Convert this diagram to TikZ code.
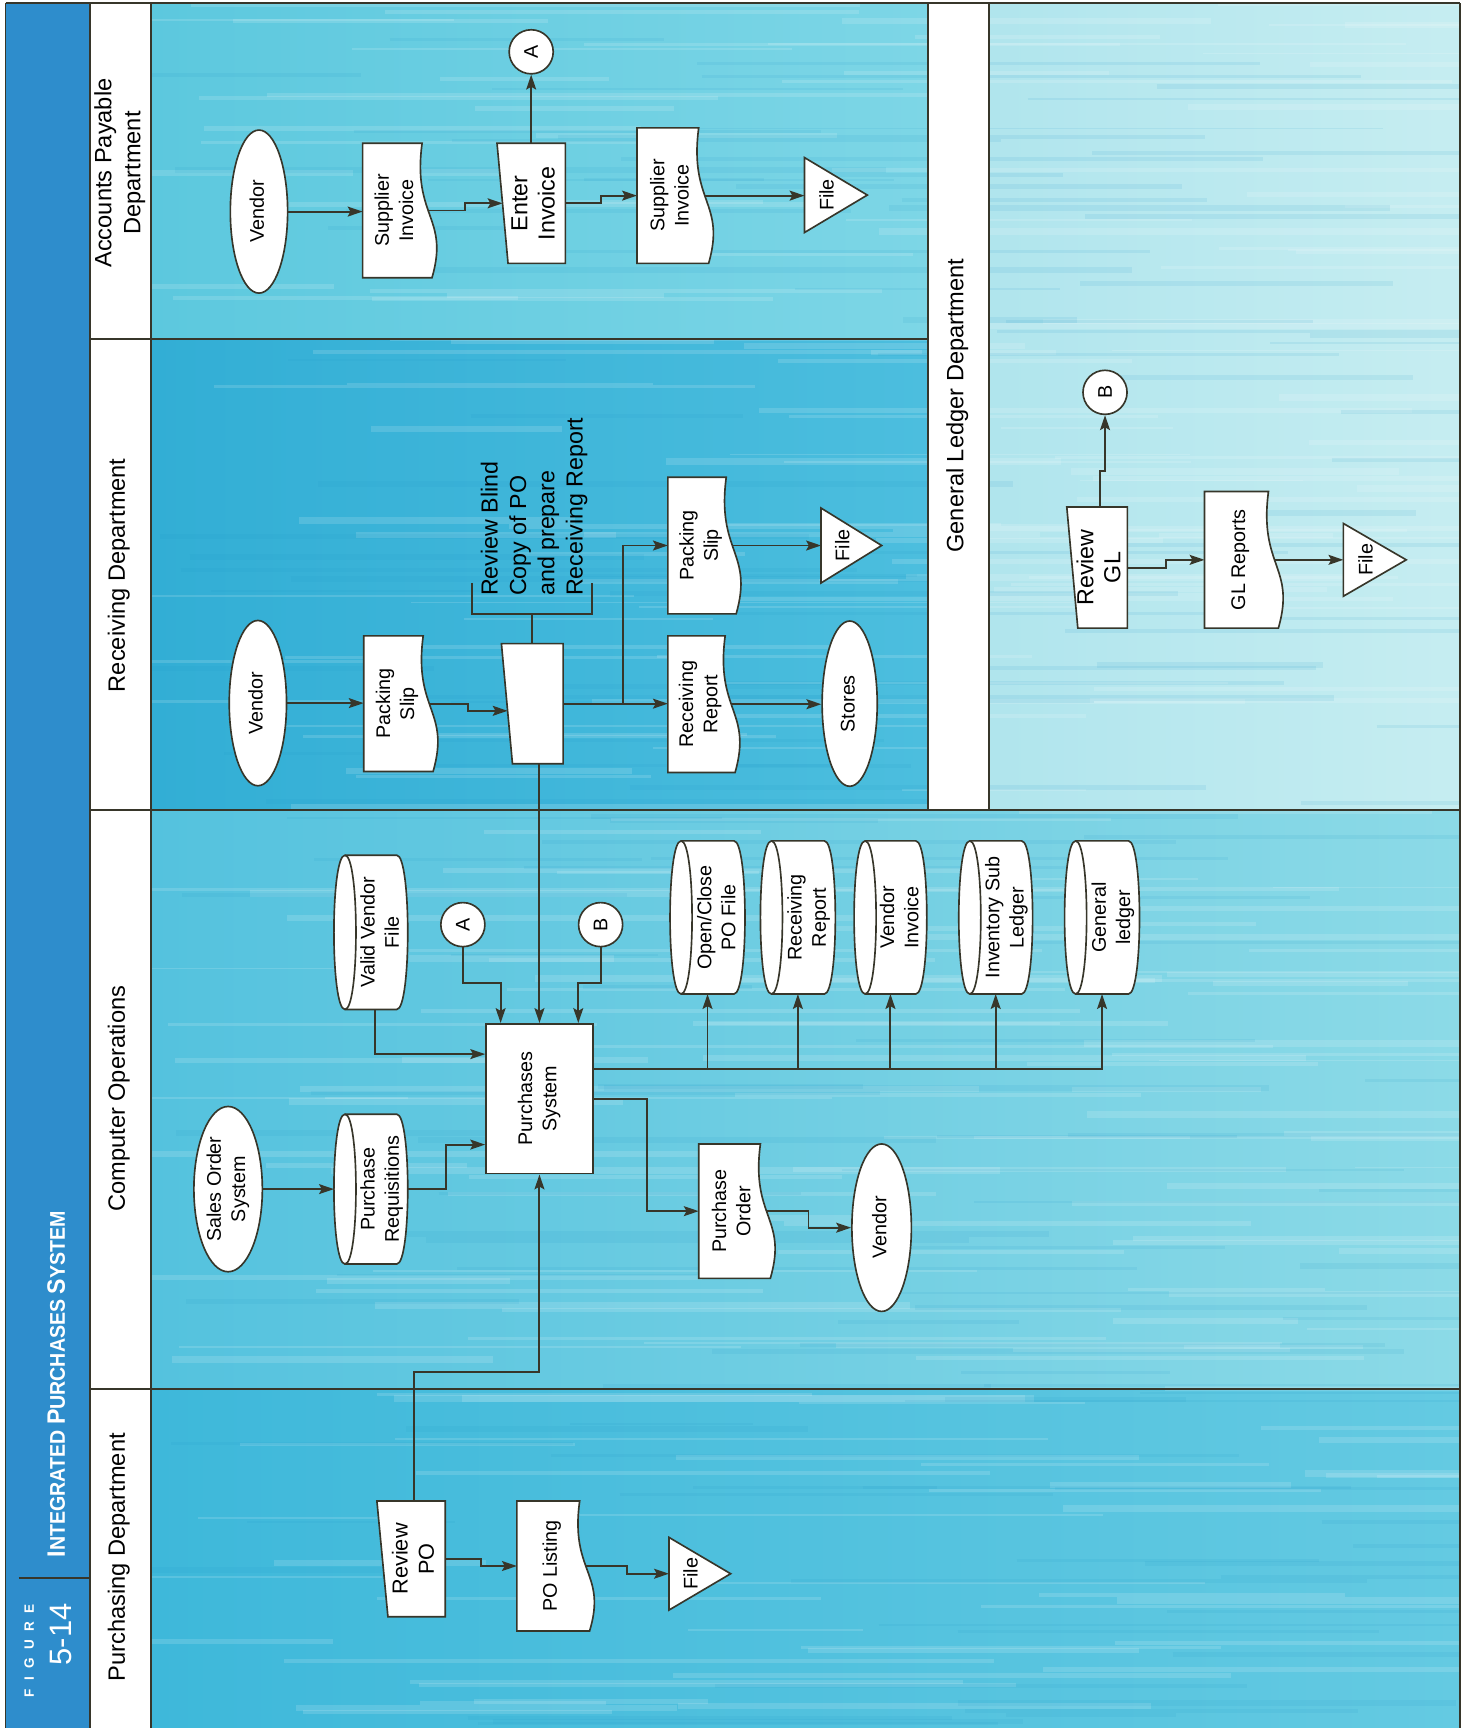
\documentclass[tikz,border=0pt]{standalone}
\usepackage{fontspec}
\setmainfont{Liberation Sans}
\usetikzlibrary{arrows.meta,calc,shapes.geometric}
\pgfdeclarelayer{lanes}
\pgfdeclarelayer{conn}
\pgfsetlayers{lanes,conn,main}
\definecolor{ink}{RGB}{55,54,42}
\definecolor{band}{RGB}{46,141,204}
\definecolor{apL}{RGB}{92,200,222}
\definecolor{apR}{RGB}{125,214,230}
\definecolor{rcL}{RGB}{50,174,213}
\definecolor{rcR}{RGB}{76,190,222}
\definecolor{glL}{RGB}{176,229,237}
\definecolor{glR}{RGB}{198,237,241}
\definecolor{coL}{RGB}{84,194,222}
\definecolor{coR}{RGB}{140,218,231}
\definecolor{puL}{RGB}{62,184,218}
\definecolor{puR}{RGB}{100,202,226}
\definecolor{streakD}{RGB}{30,150,200}
\newcommand\NF{\fontsize{10.2}{12.5}\selectfont}
\newcommand\NFL{\fontsize{12}{14}\selectfont}
\newcommand\NFM{\fontsize{11.2}{13.5}\selectfont}
\newcommand\rtx[1]{\rotatebox{90}{\begin{tabular}{@{}c@{}}#1\end{tabular}}}
\tikzset{
  shp/.style={draw=ink, line width=0.85pt, fill=white},
  box/.style={inner sep=0pt, outer sep=0pt, draw=none, fill=none, rectangle},
  ntxt/.style={inner sep=0pt, text=black},
  term/.style={shp, ellipse, inner sep=0pt, font=\NF},
  conn/.style={draw=ink, line width=1pt, -{Stealth[length=0.27cm, width=0.18cm, inset=0.05cm]}},
  wire/.style={draw=ink, line width=1pt},
  rule/.style={draw=ink, line width=1pt},
  hdr/.style={inner sep=0pt, font=\fontsize{12.2}{15}\selectfont},
}
% document: name x0 y0 x1 y1 text
\newcommand\DocN[7][\NF]{%
  \draw[shp] (#3,#4) -- ({#5-13},#4) .. controls ({#5-22},{#4+0.55*(#6-#4)}) and ({#5+12},{#4+0.55*(#6-#4)}) .. ({#5-4},#6) -- (#3,#6) -- cycle;
  \pgfmathsetmacro\shpW{(#5-8-#3)*0.02}\pgfmathsetmacro\shpH{(#6-#4)*0.02}%
  \node[box, minimum width=\shpW cm, minimum height=\shpH cm] (#2) at ({(#3+#5-8)/2},{(#4+#6)/2}) {};
  \node[ntxt, font=#1] (#2-t) at ({(#3+#5)/2-3},{(#4+#6)/2}) {\rtx{#7}};
}
% manual input
\newcommand\ManN[7][\NF]{%
  \draw[shp] (#3,#4) -- (#5,#4) -- (#5,#6) -- ({#3+10},#6) -- cycle;
  \pgfmathsetmacro\shpW{(#5-#3-5)*0.02}\pgfmathsetmacro\shpH{(#6-#4)*0.02}%
  \node[box, minimum width=\shpW cm, minimum height=\shpH cm] (#2) at ({(#3+5+#5)/2},{(#4+#6)/2}) {};
  \node[ntxt, font=#1] (#2-t) at ({(#3+#5)/2+4},{(#4+#6)/2}) {\rtx{#7}};
}
% disk storage (cylinder lying, end on the left)
\newcommand\CylN[7][\NF]{%
  \draw[shp] ({#3+10},#4) -- ({#5-10},#4) .. controls ({#5+3.33},#4) and ({#5+3.33},#6) .. ({#5-10},#6) -- ({#3+10},#6) .. controls ({#3-3.33},#6) and ({#3-3.33},#4) .. ({#3+10},#4) -- cycle;
  \draw[shp, fill=none] ({#3+10},#4) .. controls ({#3+23.33},#4) and ({#3+23.33},#6) .. ({#3+10},#6);
  \pgfmathsetmacro\shpW{(#5-#3)*0.02}\pgfmathsetmacro\shpH{(#6-#4)*0.02}%
  \node[box, minimum width=\shpW cm, minimum height=\shpH cm] (#2) at ({(#3+#5)/2},{(#4+#6)/2}) {};
  \node[ntxt, font=#1] (#2-t) at ({(#3+#5)/2+10},{(#4+#6)/2}) {\rtx{#7}};
}
% file (triangle pointing right)
\newcommand\FileN[5]{%
  \draw[shp] (#2,#3) -- (#4,{(#3+#5)/2}) -- (#2,#5) -- cycle;
  \pgfmathsetmacro\shpW{(#4-#2)*0.02}\pgfmathsetmacro\shpH{(#5-#3)*0.02}%
  \node[box, minimum width=\shpW cm, minimum height=\shpH cm] (#1) at ({(#2+#4)/2},{(#3+#5)/2}) {};
  \node[ntxt, font=\NF] (#1-t) at ({#2+(#4-#2)/3+1},{(#3+#5)/2}) {\rotatebox{90}{File}};
}
\begin{document}
\begin{tikzpicture}[x=0.02cm,y=-0.02cm]
\useasboundingbox (0,0) rectangle (1337,1568);
\begin{pgfonlayer}{lanes}
\fill[white] (0,0) rectangle (1337,1568);
\fill[band] (5,3) rectangle (82,1568);
\fill[white] (82,3) rectangle (137,1568);
\fill[white] (842,3) rectangle (897,735);
\shade[left color=apL,right color=apR] (137,3) rectangle (842,308);
\shade[left color=rcL,right color=rcR] (137,308) rectangle (842,735);
\shade[left color=glL,right color=glR] (897,3) rectangle (1325,735);
\shade[left color=coL,right color=coR] (137,735) rectangle (1325,1260);
\shade[left color=puL,right color=puR] (137,1260) rectangle (1325,1568);
% horizontal streak texture of the printed background
\begin{scope}
\clip (137,3) rectangle (842,1568) (897,3) rectangle (1325,1568) (842,735) rectangle (897,1568);
\pgfmathsetseed{11}
\foreach \i in {1,...,240}{
  \pgfmathsetmacro\yy{3+1565*rnd}
  \pgfmathsetmacro\xa{100+1150*rnd}
  \pgfmathsetmacro\ln{150+500*rnd}
  \pgfmathsetmacro\th{(1.5+5*rnd)*0.569}
  \draw[white, opacity=0.14, line width=\th pt] (\xa,\yy) -- ++(\ln,0);
}
\foreach \i in {1,...,140}{
  \pgfmathsetmacro\yy{3+1565*rnd}
  \pgfmathsetmacro\xa{100+1150*rnd}
  \pgfmathsetmacro\ln{150+500*rnd}
  \pgfmathsetmacro\th{(1.5+4*rnd)*0.569}
  \draw[streakD, opacity=0.10, line width=\th pt] (\xa,\yy) -- ++(\ln,0);
}
\end{scope}
\draw[rule] (5,3) -- (1325,3);
\draw[rule] (5,3) -- (5,1568);
\draw[rule] (82,3) -- (82,1568);
\draw[rule] (137,3) -- (137,1568);
\draw[rule] (82,308) -- (842,308);
\draw[rule] (82,735) -- (1325,735);
\draw[rule] (82,1260) -- (1325,1260);
\draw[rule] (842,3) -- (842,735);
\draw[rule] (897,3) -- (897,735);
\draw[rule] (1325,3) -- (1325,1568);
\draw[ink, line width=1.3pt] (17,1432) -- (82,1432);
\end{pgfonlayer}

% band texts
\node[inner sep=0pt, text=white] (title) at (51,1256) {\rotatebox{90}{\scalebox{0.92}[1]{\bfseries\fontsize{13}{13}\selectfont I\fontsize{11}{11}\selectfont NTEGRATED \fontsize{13}{13}\selectfont P\fontsize{11}{11}\selectfont URCHASES \fontsize{13}{13}\selectfont S\fontsize{11}{11}\selectfont YSTEM}}};
\node[inner sep=0pt, text=white] (figword) at (26.5,1498) {\rotatebox{90}{\bfseries\fontsize{7}{7}\selectfont F\hspace{4.4pt}I\hspace{4.4pt}G\hspace{4.4pt}U\hspace{4.4pt}R\hspace{4.4pt}E}};
\node[inner sep=0pt, text=white] (fignum) at (55,1483) {\rotatebox{90}{\fontsize{16}{16}\selectfont 5-14}};

% lane headers
\node[hdr] (hAP) at (109,157) {\rtx{Accounts Payable\\Department}};
\node[hdr] (hRC) at (108,522) {\rtx{Receiving Department}};
\node[hdr] (hCO) at (108,997) {\rtx{Computer Operations}};
\node[hdr] (hPU) at (108,1413) {\rtx{Purchasing Department}};
\node[hdr] (hGL) at (869,368) {\rtx{General Ledger Department}};

% ---- Accounts Payable
\node[term, minimum width=1.04cm, minimum height=2.96cm] (apV) at (235,192) {\rtx{Vendor}};
\DocN{apSI}{329}{130}{396}{252}{Supplier\\Invoice}
\ManN[\NFL]{apEI}{451}{130}{513}{239}{Enter\\Invoice}
\node[shp, circle, minimum size=0.8cm, inner sep=0pt, font=\NF] (apA) at (482,47) {\rotatebox{90}{A}};
\DocN{apSI2}{578}{116}{647}{239}{Supplier\\Invoice}
\FileN{apF}{730}{143}{787}{211}

% ---- Receiving
\node[term, minimum width=1.04cm, minimum height=3cm] (rV) at (234,638) {\rtx{Vendor}};
\DocN{rPS}{330}{577}{397}{700}{Packing\\Slip}
\ManN{rBox}{455}{584}{511}{693}{}
\node[inner sep=0pt, anchor=south, font=\fontsize{12}{14.6}\selectfont] (rNote) at (485,541) {\rotatebox{90}{\begin{tabular}{@{}l@{}}Review Blind\\Copy of PO\\and prepare\\Receiving Report\end{tabular}}};
\DocN{rRR}{606}{577}{671}{701}{Receiving\\Report}
\DocN{rPS2}{606}{433}{672}{557}{Packing\\Slip}
\node[term, minimum width=1cm, minimum height=3cm] (rSt) at (771,638.5) {\rtx{Stores}};
\FileN{rF}{745}{461}{800}{529}

% ---- Computer Operations
\node[term, minimum width=1.1cm, minimum height=3cm] (so) at (207,1079) {\rtx{Sales Order\\System}};
\CylN{pReq}{303}{1011}{370}{1147}{Purchase\\Requisitions}
\CylN{VVF}{303}{776}{370}{916}{Valid Vendor\\File}
\node[shp, circle, minimum size=0.8cm, inner sep=0pt, font=\NF] (A2) at (420,839) {\rotatebox{90}{A}};
\node[shp, circle, minimum size=0.8cm, inner sep=0pt, font=\NF] (B2) at (545,839) {\rotatebox{90}{B}};
\node[shp, rectangle, minimum width=1.94cm, minimum height=2.72cm, inner sep=0pt, font=\NF] (PS) at (489.5,997) {\rtx{Purchases\\System}};
\CylN{OPF}{608}{763}{676}{902}{Open/Close\\PO File}
\CylN{RRc}{690}{763}{758}{902}{Receiving\\Report}
\CylN{VI}{775}{763}{841}{902}{Vendor\\Invoice}
\CylN{ISL}{870}{763}{937}{902}{Inventory Sub\\Ledger}
\CylN{GLd}{966}{763}{1034}{902}{General\\ledger}
\DocN{PO}{634}{1038}{703}{1160}{Purchase\\Order}
\node[term, minimum width=1.08cm, minimum height=3.04cm] (coV) at (800,1114) {\rtx{Vendor}};

% ---- Purchasing
\ManN[\NFM]{RPO}{342}{1362}{404}{1467}{Review\\PO}
\DocN{PLi}{469}{1362}{539}{1480}{PO Listing}
\FileN{PF}{607}{1395}{663}{1461}

% ---- General Ledger
\node[shp, circle, minimum size=0.8cm, inner sep=0pt, font=\NF] (Bg) at (1002.7,356) {\rotatebox{90}{B}};
\ManN[\NFL]{RGL}{968}{460}{1023}{570}{Review\\GL}
\DocN{GLR}{1093}{446}{1164}{570}{GL Reports}
\FileN{GF}{1219}{475}{1276}{541}

% ---- connectors
\begin{pgfonlayer}{conn}
\draw[conn] (apV.east) -- (apV.east -| apSI.west);
\draw[conn] (apSI.east) -| ($(apSI.east)!.5!(apEI.west)$) |- (apEI.west);
\draw[conn] (apEI.east) -| ($(apEI.east)!.5!(apSI2.west)$) |- (apSI2.west);
\draw[conn] (apA.south |- apEI.north) -- (apA.south);
\draw[conn] (apSI2.east) -- (apSI2.east -| apF.west);

\draw[conn] (rV.east) -- (rV.east -| rPS.west);
\draw[conn] (rPS.east) -| ($(rPS.east)!.5!(rBox.west)+(0,3)$) |- ($(rBox.west)+(0.6,6.5)$);
\draw[conn] (rBox.east) -- (rBox.east -| rRR.west);
\coordinate (rJ) at ($(rBox.east)!0.57!(rBox.east -| rRR.west)$);
\draw[conn] (rJ) |- (rPS2.west);
\draw[conn] (rRR.east) -- (rRR.east -| rSt.west);
\draw[conn] (rPS2.east) -- (rPS2.east -| rF.west);
\draw[wire] ($(rBox.north)+(-2.5,0)$) -- ++(0,-27) coordinate (rBk);
\draw[wire] ($(rBk)+(-55,-28)$) -- ($(rBk)+(-55,0)$) -- ($(rBk)+(54,0)$) -- ($(rBk)+(54,-28)$);
\draw[conn] (rBox.south -| PS.north) -- (PS.north);

\draw[conn] (so.east) -- (so.east -| pReq.west);
\draw[conn] (pReq.east) -- ++(35,0) |- ($(PS.west)+(0,41.6)$);
\draw[conn] ($(VVF.south)+(4,0)$) |- ($(PS.west)+(0,-40.5)$);
\draw[conn] (A2.south) |- ($(PS.north west)+(14,-36)$) -- ($(PS.north west)+(14,0)$);
\draw[conn] (B2.south) |- ($(PS.north east)+(-14,-36)$) -- ($(PS.north east)+(-14,0)$);
\draw[conn] (RPO.north) |- ($(PS.south)+(0,179.5)$) -- (PS.south);
\draw[conn] (PS.east) -- ++(48,0) |- (PO.west);
\draw[conn] (PO.east) -| ($(PO.east)!.5!(coV.west)$) |- (coV.west);
\coordinate (bus) at ($(PS.east)+(0,-27)$);
\draw[conn] (bus) -| (GLd.south);
\foreach \c in {OPF,RRc,VI,ISL} \draw[conn] (bus -| \c.south) -- (\c.south);

\draw[conn] (RPO.east) -| ($(RPO.east)!.5!(PLi.west)$) |- (PLi.west);
\draw[conn] (PLi.east) -| ($(PLi.east)!.5!(PF.west)$) |- (PF.west);

\draw[conn] (RGL.north) -- ++(0,-33) -| (Bg.south);
\draw[conn] (RGL.east) -| ($(RGL.east)!.5!(GLR.west)$) |- (GLR.west);
\draw[conn] (GLR.east) -- (GLR.east -| GF.west);
\end{pgfonlayer}
\end{tikzpicture}
\end{document}
